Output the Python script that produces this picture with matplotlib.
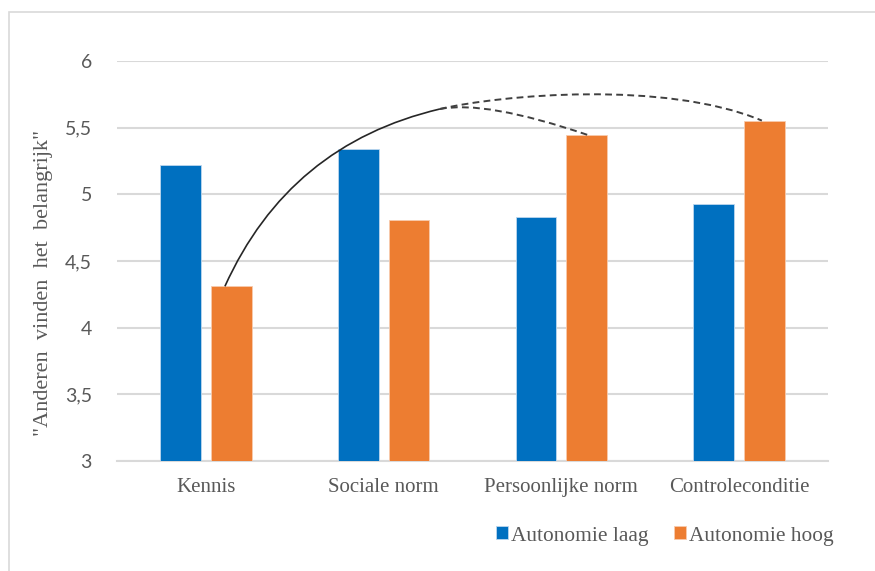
import matplotlib
matplotlib.use("Agg")
import matplotlib.pyplot as plt
from matplotlib.path import Path
from matplotlib.patches import PathPatch, Rectangle
import numpy as np

categories = ["Kennis", "Sociale norm", "Persoonlijke norm", "Controleconditie"]
autonomie_laag = [5.22, 5.34, 4.83, 4.93]
autonomie_hoog = [4.31, 4.81, 5.445, 5.553]
series_names = ["Autonomie laag", "Autonomie hoog"]
y_ticks = [3, 3.5, 4, 4.5, 5, 5.5, 6]
y_tick_labels = ["3", "3,5", "4", "4,5", "5", "5,5", "6"]
y_title = '"Anderen  vinden  het  belangrijk"'

BLUE = "#0070C0"
ORANGE = "#ED7D31"
GRID = "#D9D9D9"
TEXT = "#595959"

fig = plt.figure(figsize=(8.75, 5.71), dpi=100)
fig.patch.set_facecolor("white")

# light frame around the chart area
fig.add_artist(Rectangle((9 / 875, -0.01), 1.0, 1 - 12 / 571 + 0.01,
                         transform=fig.transFigure, fill=False,
                         edgecolor="#D9D9D9", linewidth=1.2))

ax = fig.add_axes([117 / 875, 1 - 461 / 571, 711 / 875, 400 / 571])

x = np.arange(len(categories))
width = 0.23
offset = 0.143
ax.bar(x - offset, autonomie_laag, width, bottom=0, color=BLUE,
       edgecolor="#BDD7EE", linewidth=0.6, label=series_names[0], zorder=3)
ax.bar(x + offset, autonomie_hoog, width, bottom=0, color=ORANGE,
       edgecolor="#F8CBAD", linewidth=0.6, label=series_names[1], zorder=3)

ax.set_xlim(-0.5, len(categories) - 0.5)
ax.set_ylim(3, 6)
ax.set_yticks(y_ticks)
ax.set_yticklabels(y_tick_labels, family="Lato", fontsize=14, color=TEXT)
ax.set_xticks(x)
ax.set_xticklabels(categories, family="Liberation Serif", fontsize=15, color=TEXT)
ax.tick_params(axis="both", length=0)
ax.tick_params(axis="y", pad=18)
ax.tick_params(axis="x", pad=12)

for s in ["top", "right", "left"]:
    ax.spines[s].set_visible(False)
ax.spines["bottom"].set_color(GRID)
ax.spines["bottom"].set_linewidth(1.5)
ax.yaxis.grid(True, color=GRID, linewidth=1.5, zorder=0)
ax.set_axisbelow(True)

fig.text(44 / 875, 1 - 283 / 571, y_title, rotation=90, ha="center", va="center",
         family="Liberation Serif", fontsize=16, color=TEXT)

# connecting arcs between the orange bar tops
start = (x[0] + offset - 0.036, autonomie_hoog[0])
junction = (1.3165, 5.640)
end1 = (x[2] + offset + 0.006, autonomie_hoog[2])
end2 = (x[3] + offset - 0.015, autonomie_hoog[3])

solid = Path([start, (0.4675, 5.374), junction],
             [Path.MOVETO, Path.CURVE3, Path.CURVE3])
dash1 = Path([junction, (1.5696, 5.7075), end1],
             [Path.MOVETO, Path.CURVE3, Path.CURVE3])
dash2 = Path([junction, (1.654, 5.745), (2.582, 5.858), end2],
             [Path.MOVETO, Path.CURVE4, Path.CURVE4, Path.CURVE4])

ax.add_patch(PathPatch(solid, fill=False, edgecolor="#262626", linewidth=1.2,
                       zorder=5, clip_on=False))
for p in (dash1, dash2):
    ax.add_patch(PathPatch(p, fill=False, edgecolor="#404040", linewidth=1.4,
                           linestyle=(0, (3.5, 2.2)), zorder=5, clip_on=False))

leg = fig.legend(loc="center right", bbox_to_anchor=(853 / 875, 1 - 536 / 571),
                 ncol=2, frameon=False, handlelength=0.55, handleheight=0.55,
                 handletextpad=0.15, columnspacing=1.2,
                 prop={"family": "Liberation Serif", "size": 15.4})
for t in leg.get_texts():
    t.set_color(TEXT)

fig.savefig("out.png", dpi=100, facecolor="white")
